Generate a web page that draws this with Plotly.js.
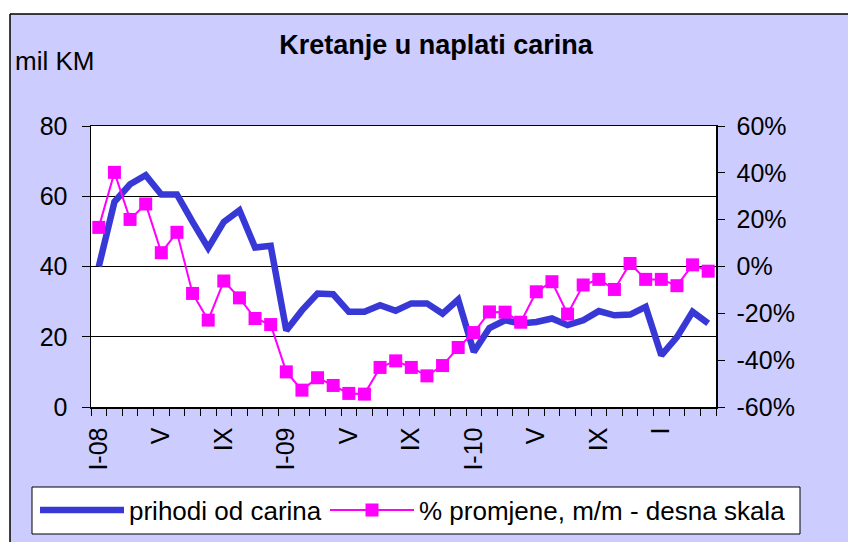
<!DOCTYPE html>
<html>
<head>
<meta charset="utf-8">
<script src="https://cdn.plot.ly/plotly-3.0.1.min.js"></script>
<style>html,body{margin:0;padding:0;background:#fff;}#chart{width:848px;height:542px;}</style>
</head>
<body>
<div id="chart"></div>
<script>
// Months Jan 2008 .. Apr 2011
var months = ['I-08','II-08','III-08','IV-08','V-08','VI-08','VII-08','VIII-08','IX-08','X-08','XI-08','XII-08',
              'I-09','II-09','III-09','IV-09','V-09','VI-09','VII-09','VIII-09','IX-09','X-09','XI-09','XII-09',
              'I-10','II-10','III-10','IV-10','V-10','VI-10','VII-10','VIII-10','IX-10','X-10','XI-10','XII-10',
              'I-11','II-11','III-11','IV-11'];
var tickLabels = ['I-08','','','','V','','','','IX','','','',
                  'I-09','','','','V','','','','IX','','','',
                  'I-10','','','','V','','','','IX','','','',
                  'I','','',''];
// prihodi od carina (mil KM), left axis
var prihodi = [40, 58.4, 63.4, 66, 60.5, 60.5, 52.7, 45.3, 52.7, 56, 45.4, 45.9,
               21.8, 27.5, 32.3, 32.1, 27.1, 27.1, 29, 27.4, 29.5, 29.5, 26.6, 30.6,
               15.7, 22.5, 24.7, 23.8, 24.2, 25.2, 23.3, 24.7, 27.3, 26.1, 26.3, 28.5,
               14.7, 19.9, 27.1, 23.8];
// % promjene, m/m (right axis)
var promjena = [16.7, 40.2, 20.1, 26.7, 5.9, 14.6, -11.5, -22.9, -6.2, -13.4, -22.2, -24.8,
                -45, -52.8, -47.5, -50.8, -54.2, -54.5, -43.1, -40.3, -43.1, -46.7, -42.3, -34.6,
                -28.2, -19.4, -19.5, -23.8, -10.8, -6.5, -20.3, -7.9, -5.5, -9.8, 1.3, -5.5,
                -5.5, -8.2, 0.7, -2];
var yTicks = [0, 20, 40, 60, 80];
var y2Ticks = [-60, -40, -20, 0, 20, 40, 60];
var y2TickText = ['-60%', '-40%', '-20%', '0%', '20%', '40%', '60%'];

var W = 848, H = 542;
var M = {l: 91, r: 132, t: 126, b: 135, autoexpand: false};
var pw = W - M.l - M.r, ph = H - M.t - M.b;
function px(x){ return (x - M.l) / pw; }
function py(y){ return (H - M.b - y) / ph; }

var FONT = 'Liberation Sans, Arial, sans-serif';
var TICK = 25, TEXT = 26;

var traces = [
  {
    x: months, y: prihodi, type: 'scatter', mode: 'lines',
    name: 'prihodi od carina',
    line: {color: '#3838D6', width: 6.5},
    yaxis: 'y', legend: 'legend'
  },
  {
    x: months, y: promjena, type: 'scatter', mode: 'lines+markers',
    name: '% promjene, m/m - desna skala',
    line: {color: '#FF00FF', width: 2},
    marker: {symbol: 'square', size: 13, color: '#FF00FF'},
    yaxis: 'y2', legend: 'legend2'
  }
];

function legendAt(xPix) {
  return {
    orientation: 'h',
    xref: 'container', yref: 'container',
    x: xPix / W, xanchor: 'left',
    y: 1 - 510 / H, yanchor: 'middle',
    bgcolor: 'rgba(0,0,0,0)', borderwidth: 0,
    font: {family: FONT, size: TEXT, color: '#000'},
    itemwidth: 84
  };
}

var layout = {
  width: W, height: H,
  margin: M,
  paper_bgcolor: '#CCCCFF',
  plot_bgcolor: '#FFFFFF',
  font: {family: FONT, size: TICK, color: '#000'},
  showlegend: true,
  title: {
    text: 'Kretanje u naplati carina',
    font: {family: FONT, size: 27, weight: 'bold', color: '#000'},
    x: 436 / W, xanchor: 'center', xref: 'container',
    y: 1 - 45 / H, yanchor: 'middle', yref: 'container'
  },
  xaxis: {
    type: 'category',
    categoryorder: 'array', categoryarray: months,
    range: [-0.5, months.length - 0.5],
    tickmode: 'array', tickvals: months, ticktext: tickLabels,
    tickson: 'boundaries',
    ticks: 'outside', ticklen: 7, tickcolor: '#000', tickwidth: 1,
    tickangle: -90,
    tickfont: {family: FONT, size: TICK, color: '#000'},
    ticklabelstandoff: 9,
    showline: true, linecolor: '#000', linewidth: 1.5, mirror: true,
    showgrid: false, zeroline: false, fixedrange: true, automargin: false
  },
  yaxis: {
    range: [0, 80], tickmode: 'array', tickvals: yTicks,
    ticks: 'outside', ticklen: 8, tickcolor: '#000',
    tickfont: {family: FONT, size: TICK, color: '#000'},
    ticklabelstandoff: 9,
    showline: true, linecolor: '#000', linewidth: 1.5,
    showgrid: true, gridcolor: '#000', gridwidth: 1,
    zeroline: false, fixedrange: true, automargin: false
  },
  yaxis2: {
    overlaying: 'y', side: 'right',
    range: [-60, 60], tickmode: 'array', tickvals: y2Ticks, ticktext: y2TickText,
    ticks: 'outside', ticklen: 7, tickcolor: '#000',
    tickfont: {family: FONT, size: TICK, color: '#000'},
    ticklabelstandoff: 7,
    showline: true, linecolor: '#000', linewidth: 1.5,
    showgrid: false, zeroline: false, fixedrange: true, automargin: false
  },
  legend: legendAt(35),
  legend2: legendAt(325),
  annotations: [
    {text: 'mil KM', xref: 'paper', yref: 'paper', x: px(13), y: py(61),
     xanchor: 'left', yanchor: 'middle', showarrow: false,
     font: {family: FONT, size: TEXT, color: '#000'}}
  ],
  shapes: [
    // white margin strips outside the chart frame
    {type: 'rect', xref: 'paper', yref: 'paper', x0: px(-5), x1: px(W + 5), y0: py(14), y1: py(-5),
     fillcolor: '#FFFFFF', line: {width: 0}, layer: 'below'},
    {type: 'rect', xref: 'paper', yref: 'paper', x0: px(-5), x1: px(10), y0: py(H + 5), y1: py(-5),
     fillcolor: '#FFFFFF', line: {width: 0}, layer: 'below'},
    {type: 'line', xref: 'paper', yref: 'paper', x0: px(10), x1: px(W + 5), y0: py(14), y1: py(14),
     line: {color: '#000', width: 1.5}},
    {type: 'line', xref: 'paper', yref: 'paper', x0: px(10), x1: px(10), y0: py(14), y1: py(H + 5),
     line: {color: '#000', width: 1.5}},
    // legend box
    {type: 'rect', xref: 'paper', yref: 'paper', x0: px(32), x1: px(800), y0: py(534), y1: py(487),
     fillcolor: '#FFFFFF', line: {color: '#000', width: 1}, layer: 'below'}
  ]
};

Plotly.newPlot('chart', traces, layout, {displayModeBar: false, staticPlot: true});
</script>
</body>
</html>
